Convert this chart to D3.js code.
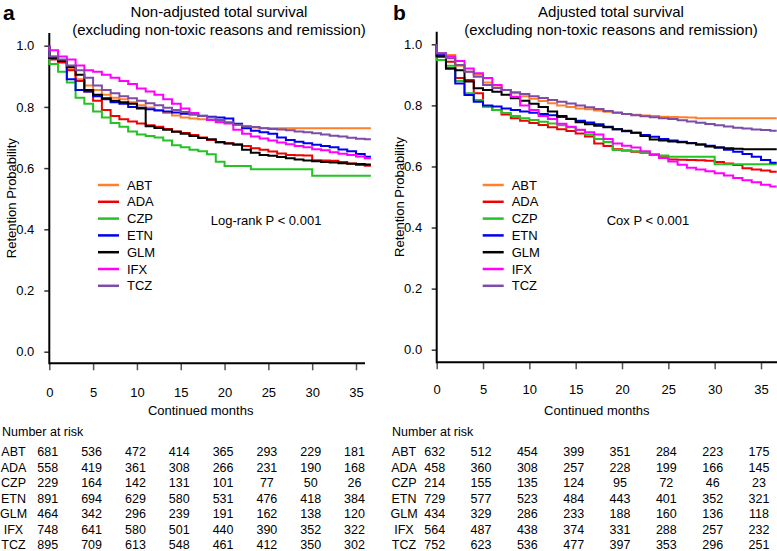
<!DOCTYPE html>
<html>
<head>
<meta charset="utf-8">
<script src="https://cdn.jsdelivr.net/npm/d3@7"></script>
<style>
  html, body { margin: 0; padding: 0; background: #fff; }
  svg { display: block; font-family: "Liberation Sans", Arial, Helvetica, sans-serif; }
</style>
</head>
<body>
<svg id="chart" width="777" height="551"></svg>
<script>
// ---------------- DATA ----------------
const drugs = ["ABT", "ADA", "CZP", "ETN", "GLM", "IFX", "TCZ"];
const stepMonths = [0,1,2,3,4,5,6,7,8,9,10,11,12,13,14,15,16,17,18,19,20,21,22,23,24,25,26,27,28,29,30,31,32,33,34,35,36];
const endMonth = 36.7;
const xTicks = [0, 5, 10, 15, 20, 25, 30, 35];
const yTicks = [0.0, 0.2, 0.4, 0.6, 0.8, 1.0];
const riskMonths = [0, 5, 10, 15, 20, 25, 30, 35];

// Panel a: Non-adjusted survival (value from each month to the next)
const a_ABT = [0.965,0.95,0.925,0.89,0.87,0.855,0.84,0.83,0.825,0.815,0.805,0.798,0.79,0.78,0.772,0.765,0.762,0.76,0.757,0.752,0.747,0.741,0.736,0.733,0.731,0.73,0.73,0.73,0.73,0.73,0.73,0.73,0.73,0.73,0.73,0.73,0.73];
const a_ADA = [0.955,0.945,0.92,0.885,0.85,0.82,0.79,0.77,0.76,0.752,0.746,0.74,0.735,0.728,0.72,0.715,0.708,0.70,0.692,0.684,0.681,0.678,0.672,0.665,0.66,0.654,0.648,0.643,0.642,0.641,0.626,0.625,0.624,0.62,0.615,0.61,0.608];
const a_CZP = [0.94,0.915,0.88,0.83,0.81,0.785,0.765,0.747,0.735,0.72,0.71,0.705,0.70,0.69,0.675,0.668,0.66,0.655,0.645,0.621,0.607,0.607,0.607,0.596,0.596,0.596,0.596,0.596,0.596,0.596,0.575,0.575,0.575,0.575,0.575,0.575,0.575];
const a_ETN = [0.96,0.95,0.89,0.855,0.85,0.835,0.825,0.815,0.81,0.80,0.797,0.792,0.788,0.785,0.782,0.778,0.775,0.771,0.768,0.765,0.762,0.745,0.73,0.722,0.717,0.712,0.70,0.692,0.686,0.681,0.676,0.672,0.668,0.661,0.655,0.646,0.637];
const a_GLM = [0.96,0.95,0.93,0.905,0.855,0.84,0.828,0.82,0.815,0.81,0.795,0.737,0.731,0.725,0.719,0.712,0.705,0.698,0.694,0.685,0.68,0.676,0.66,0.65,0.643,0.64,0.636,0.632,0.628,0.625,0.622,0.62,0.618,0.616,0.614,0.613,0.612];
const a_IFX = [0.985,0.965,0.955,0.935,0.92,0.915,0.905,0.895,0.885,0.875,0.86,0.85,0.84,0.825,0.81,0.795,0.78,0.77,0.757,0.75,0.746,0.725,0.712,0.703,0.697,0.69,0.684,0.678,0.672,0.668,0.662,0.658,0.652,0.647,0.643,0.638,0.632];
const a_TCZ = [0.965,0.955,0.935,0.92,0.895,0.87,0.855,0.845,0.835,0.828,0.82,0.812,0.805,0.797,0.79,0.783,0.777,0.77,0.765,0.757,0.75,0.742,0.737,0.734,0.73,0.728,0.726,0.724,0.72,0.717,0.714,0.71,0.706,0.703,0.699,0.696,0.694];

// Panel b: Adjusted survival
const b_ABT = [0.967,0.965,0.93,0.91,0.90,0.875,0.865,0.85,0.84,0.83,0.822,0.814,0.807,0.80,0.795,0.79,0.787,0.783,0.779,0.775,0.772,0.769,0.767,0.765,0.763,0.762,0.761,0.76,0.758,0.758,0.758,0.758,0.758,0.758,0.758,0.758,0.758];
const b_ADA = [0.96,0.943,0.89,0.883,0.84,0.796,0.785,0.77,0.758,0.75,0.742,0.736,0.728,0.722,0.716,0.708,0.698,0.675,0.667,0.656,0.652,0.648,0.645,0.638,0.63,0.623,0.622,0.621,0.62,0.619,0.615,0.61,0.605,0.594,0.59,0.587,0.583];
const b_CZP = [0.949,0.93,0.88,0.84,0.818,0.796,0.785,0.775,0.765,0.758,0.752,0.746,0.741,0.735,0.728,0.719,0.705,0.69,0.68,0.654,0.652,0.65,0.645,0.64,0.636,0.632,0.632,0.632,0.632,0.632,0.607,0.607,0.607,0.607,0.607,0.607,0.607];
const b_ETN = [0.965,0.921,0.872,0.834,0.812,0.80,0.796,0.79,0.785,0.78,0.776,0.772,0.768,0.762,0.756,0.75,0.744,0.738,0.73,0.722,0.715,0.71,0.703,0.697,0.69,0.685,0.681,0.677,0.672,0.668,0.662,0.655,0.648,0.641,0.632,0.621,0.612];
const b_GLM = [0.96,0.921,0.915,0.878,0.856,0.85,0.845,0.835,0.823,0.815,0.805,0.795,0.78,0.765,0.755,0.745,0.738,0.733,0.728,0.722,0.717,0.71,0.70,0.688,0.685,0.682,0.679,0.676,0.672,0.665,0.662,0.66,0.658,0.656,0.656,0.656,0.656];
const b_IFX = [0.971,0.96,0.945,0.921,0.905,0.89,0.867,0.85,0.828,0.80,0.785,0.765,0.755,0.74,0.73,0.72,0.712,0.705,0.69,0.675,0.668,0.662,0.65,0.638,0.628,0.616,0.606,0.596,0.59,0.584,0.578,0.57,0.562,0.555,0.548,0.54,0.534];
const b_TCZ = [0.971,0.954,0.932,0.91,0.894,0.867,0.857,0.85,0.843,0.837,0.83,0.824,0.818,0.812,0.806,0.80,0.794,0.788,0.782,0.777,0.772,0.768,0.764,0.761,0.758,0.755,0.751,0.747,0.743,0.739,0.735,0.731,0.727,0.724,0.721,0.719,0.717];

// Number at risk
const riskA_ABT = [681,536,472,414,365,293,229,181];
const riskA_ADA = [558,419,361,308,266,231,190,168];
const riskA_CZP = [229,164,142,131,101,77,50,26];
const riskA_ETN = [891,694,629,580,531,476,418,384];
const riskA_GLM = [464,342,296,239,191,162,138,120];
const riskA_IFX = [748,641,580,501,440,390,352,322];
const riskA_TCZ = [895,709,613,548,461,412,350,302];

const riskB_ABT = [632,512,454,399,351,284,223,175];
const riskB_ADA = [458,360,308,257,228,199,166,145];
const riskB_CZP = [214,155,135,124,95,72,46,23];
const riskB_ETN = [729,577,523,484,443,401,352,321];
const riskB_GLM = [434,329,286,233,188,160,136,118];
const riskB_IFX = [564,487,438,374,331,288,257,232];
const riskB_TCZ = [752,623,536,477,397,353,296,251];

// ---------------- STYLE ----------------
const colorOf = {
  ABT: "#FF7F2A", ADA: "#F00000", CZP: "#22C322", ETN: "#0000F0",
  GLM: "#000000", IFX: "#FF00FF", TCZ: "#7B4CA8"
};

const panels = [
  {
    letter: "a", title1: "Non-adjusted total survival",
    title2: "(excluding non-toxic reasons and remission)",
    stat: "Log-rank P < 0.001",
    curves: { ABT: a_ABT, ADA: a_ADA, CZP: a_CZP, ETN: a_ETN, GLM: a_GLM, IFX: a_IFX, TCZ: a_TCZ },
    risk: { ABT: riskA_ABT, ADA: riskA_ADA, CZP: riskA_CZP, ETN: riskA_ETN, GLM: riskA_GLM, IFX: riskA_IFX, TCZ: riskA_TCZ },
    x0: 49.3, x35: 356, y0: 351.7, y1: 45.7, axTop: 33, axBottom: 363.3, axRight: 365,
    ox: 0, titleX: 219, statX: 210.7, legX: 98, ylabX: 11, xlabY: 392, yLabPad: 10,
    riskLabelX: 13.5, numberX: 2, rowDx: -1.5
  },
  {
    letter: "b", title1: "Adjusted total survival",
    title2: "(excluding non-toxic reasons and remission)",
    stat: "Cox P < 0.001",
    curves: { ABT: b_ABT, ADA: b_ADA, CZP: b_CZP, ETN: b_ETN, GLM: b_GLM, IFX: b_IFX, TCZ: b_TCZ },
    risk: { ABT: riskB_ABT, ADA: riskB_ADA, CZP: riskB_CZP, ETN: riskB_ETN, GLM: riskB_GLM, IFX: riskB_IFX, TCZ: riskB_TCZ },
    x0: 436.7, x35: 761, y0: 349.7, y1: 44.3, axTop: 31.7, axBottom: 362.3, axRight: 777,
    ox: 390, titleX: 611, statX: 606.7, legX: 482.7, ylabX: 399, xlabY: 389, yLabPad: 9.5,
    riskLabelX: 404, numberX: 392, rowDx: -2
  }
];

const svg = d3.select("#chart");

panels.forEach(p => {
  const g = svg.append("g");
  const x = d3.scaleLinear().domain([0, 35]).range([p.x0, p.x35]);
  const y = d3.scaleLinear().domain([0, 1]).range([p.y0, p.y1]);

  // Panel letter
  g.append("text").attr("x", p.ox + 3).attr("y", 20)
    .attr("font-size", 21).attr("font-weight", "bold").text(p.letter);

  // Titles
  g.append("text").attr("x", p.titleX).attr("y", 17).attr("text-anchor", "middle")
    .attr("font-size", 15).text(p.title1);
  g.append("text").attr("x", p.titleX).attr("y", 35).attr("text-anchor", "middle")
    .attr("font-size", 15).text(p.title2);

  // Y axis
  const yAxis = d3.axisLeft(y).tickValues(yTicks).tickSize(5).tickPadding(p.yLabPad)
    .tickFormat(d3.format(".1f"));
  const yg = g.append("g").attr("transform", `translate(${p.x0},0)`).call(yAxis);
  yg.select(".domain").remove();
  yg.selectAll(".tick line").attr("stroke", "#333").attr("stroke-width", 1.5);
  yg.selectAll(".tick text").attr("font-size", 13).attr("fill", "#000")
    .attr("font-family", "Liberation Sans, Arial, sans-serif");

  // X axis
  const xAxis = d3.axisBottom(x).tickValues(xTicks).tickSize(7).tickPadding(0).tickFormat(d3.format("d"));
  const xg = g.append("g").attr("transform", `translate(0,${p.axBottom})`).call(xAxis);
  xg.select(".domain").remove();
  xg.selectAll(".tick line").attr("stroke", "#555").attr("stroke-width", 1.5);
  xg.selectAll(".tick text").attr("font-size", 13).attr("fill", "#000")
    .attr("y", p.xlabY - p.axBottom).attr("dy", "0.35em")
    .attr("font-family", "Liberation Sans, Arial, sans-serif");

  // Axis lines (L-shaped box)
  g.append("line").attr("x1", p.x0).attr("x2", p.x0).attr("y1", p.axTop).attr("y2", p.axBottom + 1)
    .attr("stroke", "#000").attr("stroke-width", 2);
  g.append("line").attr("x1", p.x0).attr("x2", p.axRight).attr("y1", p.axBottom).attr("y2", p.axBottom)
    .attr("stroke", "#000").attr("stroke-width", 2);

  // Axis titles
  g.append("text").attr("x", (p.x0 + p.x35) / 2 - 2).attr("y", 410).attr("dy", "0.35em")
    .attr("text-anchor", "middle").attr("font-size", 13).text("Continued months");
  g.append("text").attr("transform", `translate(${p.ylabX},${(p.axTop + p.axBottom) / 2}) rotate(-90)`)
    .attr("text-anchor", "middle").attr("dy", "0.35em").attr("font-size", 13).text("Retention Probability");

  // Curves
  const line = d3.line().x(d => x(d.t)).y(d => y(d.v)).curve(d3.curveStepAfter);
  drugs.forEach(dr => {
    const vals = p.curves[dr];
    const pts = [{ t: 0, v: 1 }];
    stepMonths.forEach((m, i) => pts.push({ t: m, v: vals[i] }));
    pts.push({ t: endMonth, v: vals[vals.length - 1] });
    g.append("path").datum(pts).attr("d", line)
      .attr("fill", "none").attr("stroke", colorOf[dr]).attr("stroke-width", 2)
      .attr("stroke-linejoin", "miter");
  });

  // Legend
  drugs.forEach((dr, i) => {
    const ly = 185 + i * 16.8;
    g.append("line").attr("x1", p.legX).attr("x2", p.legX + 21).attr("y1", ly).attr("y2", ly)
      .attr("stroke", colorOf[dr]).attr("stroke-width", 2.5);
    g.append("text").attr("x", p.legX + 29).attr("y", ly).attr("dy", "0.35em")
      .attr("font-size", 13).text(dr);
  });

  // Stat text
  g.append("text").attr("x", p.statX).attr("y", 220).attr("dy", "0.35em")
    .attr("font-size", 13).text(p.stat);

  // Number at risk table
  g.append("text").attr("x", p.numberX).attr("y", 432).attr("dy", "0.35em")
    .attr("font-size", 12.5).text("Number at risk");
  drugs.forEach((dr, i) => {
    const ry = 451.7 + i * 15.55;
    g.append("text").attr("x", p.riskLabelX).attr("y", ry).attr("dy", "0.35em")
      .attr("text-anchor", "middle").attr("font-size", 12.5).text(dr);
    p.risk[dr].forEach((n, j) => {
      g.append("text").attr("x", x(riskMonths[j]) + p.rowDx).attr("y", ry).attr("dy", "0.35em")
        .attr("text-anchor", "middle").attr("font-size", 12.5).text(n);
    });
  });
});
</script>
</body>
</html>
